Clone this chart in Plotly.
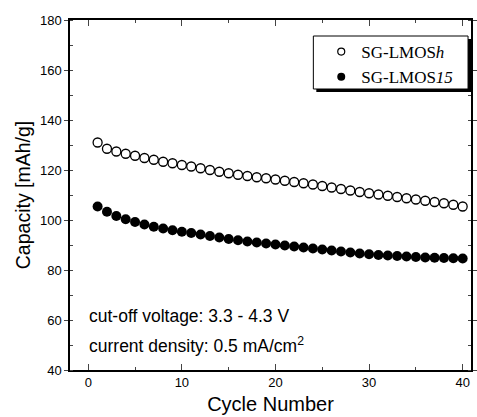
import plotly.graph_objects as go

# Cycle numbers and discharge capacities (mAh/g)
cycles = list(range(1, 41))
cap_h = [131.0, 128.5, 127.4, 126.5, 125.7, 124.8, 124.1, 123.3, 122.7, 122.0,
         121.4, 120.7, 120.0, 119.3, 118.7, 118.1, 117.6, 117.1, 116.7, 116.2,
         115.7, 115.2, 114.7, 114.2, 113.6, 113.0, 112.4, 111.8, 111.2, 110.7,
         110.2, 109.7, 109.2, 108.7, 108.2, 107.7, 107.2, 106.7, 106.1, 105.4]
cap_15 = [105.4, 103.3, 101.6, 100.3, 99.2, 98.2, 97.3, 96.6, 95.9, 95.3,
          94.8, 94.2, 93.6, 93.0, 92.4, 91.9, 91.4, 91.0, 90.6, 90.2,
          89.8, 89.4, 89.0, 88.6, 88.2, 87.8, 87.4, 87.0, 86.6, 86.3,
          86.0, 85.8, 85.6, 85.4, 85.2, 85.0, 84.9, 84.8, 84.7, 84.6]
series_names = ["SG-LMOS<i>h</i>", "SG-LMOS<i>15</i>"]
x_ticks = [0, 10, 20, 30, 40]
y_ticks = [40, 60, 80, 100, 120, 140, 160, 180]

open_marker = dict(symbol="circle-open", size=9, color="black", line=dict(width=1.3))
filled_marker = dict(symbol="circle", size=10, color="black")

fig = go.Figure()
fig.add_trace(go.Scatter(x=cycles, y=cap_h, mode="markers", name=series_names[0],
                         marker=open_marker, showlegend=False, legendgroup="h"))
fig.add_trace(go.Scatter(x=cycles, y=cap_15, mode="markers", name=series_names[1],
                         marker=filled_marker, showlegend=False, legendgroup="15"))
# Legend entries use smaller symbols than the plotted points
fig.add_trace(go.Scatter(x=[None], y=[None], mode="markers", name=series_names[0],
                         legendgroup="h",
                         marker=dict(symbol="circle-open", size=7, color="black",
                                     line=dict(width=1.2))))
fig.add_trace(go.Scatter(x=[None], y=[None], mode="markers", name=series_names[1],
                         legendgroup="15",
                         marker=dict(symbol="circle", size=8, color="black")))

sans = "Liberation Sans, Arial, sans-serif"
axis_font = dict(family=sans, size=13, color="black")

fig.update_xaxes(
    range=[-1.95, 40.89], tickvals=x_ticks, ticks="inside", ticklen=6, tickwidth=1,
    minor=dict(dtick=5, tick0=0, ticks="inside", ticklen=3, tickwidth=1),
    showline=True, linecolor="black", linewidth=1.5, mirror="allticks",
    showgrid=False, zeroline=False, tickfont=axis_font,
    title=dict(text="Cycle Number", font=dict(family=sans, size=20, color="black"), standoff=8),
)
fig.update_yaxes(
    range=[40, 180], tickvals=y_ticks, ticks="outside", ticklen=4, tickwidth=1,
    minor=dict(dtick=10, tick0=0, ticks="inside", ticklen=3, tickwidth=1),
    showline=True, linecolor="black", linewidth=1.5, mirror="allticks",
    showgrid=False, zeroline=False, tickfont=axis_font,
    title=dict(text="Capacity [mAh/g]", font=dict(family=sans, size=19.5, color="black"), standoff=4),
)

# Test conditions
text_font = dict(family=sans, size=17.5, color="black")
fig.add_annotation(x=-0.1, y=61.5, xref="x", yref="y", xanchor="left", yanchor="middle",
                   text="cut-off voltage: 3.3 - 4.3 V", showarrow=False, font=text_font)
fig.add_annotation(x=-0.1, y=50, xref="x", yref="y", xanchor="left", yanchor="middle",
                   text="current density: 0.5 mA/cm<sup>2</sup>", showarrow=False, font=text_font)


def px_x(p):
    return (p - 70) / 407


def px_y(p):
    return (370 - p) / 350


# Legend frame with drop shadow
fig.add_shape(type="rect", xref="paper", yref="paper", layer="above",
              x0=px_x(320), x1=px_x(477), y0=px_y(92), y1=px_y(39),
              fillcolor="black", line=dict(width=0))
fig.add_shape(type="rect", xref="paper", yref="paper", layer="above",
              x0=px_x(317), x1=px_x(474), y0=px_y(89), y1=px_y(36),
              fillcolor="white", line=dict(color="black", width=1))

fig.update_layout(
    width=477, height=417,
    margin=dict(l=70, r=0, t=20, b=47),
    paper_bgcolor="white", plot_bgcolor="white",
    showlegend=True,
    legend=dict(
        x=px_x(325), y=px_y(34), xanchor="left", yanchor="top",
        bgcolor="rgba(0,0,0,0)", borderwidth=0,
        font=dict(family="Liberation Serif, Times New Roman, serif", size=17, color="black"),
        itemwidth=30, tracegroupgap=0,
    ),
)

fig.write_html("out.html")
